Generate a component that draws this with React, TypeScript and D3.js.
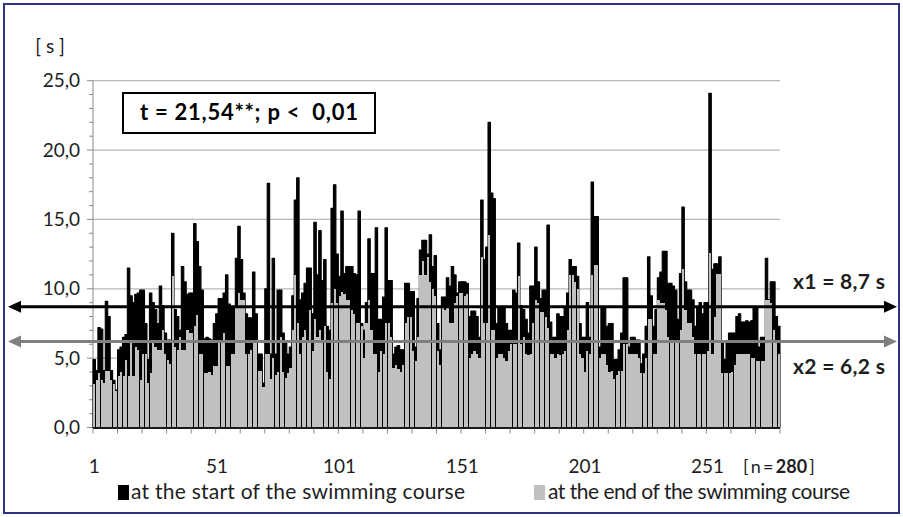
import React from 'react';
import * as d3 from 'd3';

// Reaction times [s] of 280 swimmers
const startValues: number[] = [
  4.9,4.1,7.2,7.1,4.1,9.1,8.0,4.1,3.4,2.7,5.6,5.8,6.5,6.7,11.5,9.5,9.0,9.6,9.7,9.9,9.9,7.5,4.9,9.7,9.0,8.5,7.5,10.2,8.8,6.8,6.3,6.3,14.0,8.5,8.0,
  7.0,11.6,10.5,9.6,9.7,9.7,14.7,13.4,11.6,9.9,6.4,6.5,6.4,6.3,7.5,8.2,9.3,9.3,9.7,11.0,8.9,8.7,8.7,12.2,14.5,12.1,9.7,8.2,7.9,7.9,11.2,8.2,5.3,5.3,3.2,
  10.0,17.6,5.3,12.2,5.3,9.9,9.9,6.8,6.1,5.3,5.8,9.5,16.4,18.0,9.2,9.7,10.4,11.5,11.5,8.2,14.8,11.0,14.2,10.6,12.1,7.3,7.0,15.8,17.5,12.5,10.9,15.6,11.1,11.6,11.6,
  11.6,11.1,11.0,15.6,7.5,7.0,9.0,13.6,11.1,11.1,14.4,7.8,7.8,9.4,14.4,10.6,10.6,5.3,5.8,5.9,5.6,5.6,10.4,10.4,9.8,9.8,5.8,9.3,12.8,13.5,13.5,12.5,13.9,11.6,12.4,
  7.5,5.6,9.4,9.4,10.8,10.2,11.6,11.0,9.7,10.5,10.5,10.5,10.4,8.0,8.4,8.4,8.0,6.5,16.4,12.1,13.0,22.0,16.9,16.5,7.5,8.7,8.6,8.6,7.5,7.0,7.0,9.9,9.7,13.3,8.8,
  8.5,7.8,6.8,10.2,10.2,13.0,10.5,9.3,9.9,9.9,14.6,7.6,6.5,6.5,8.2,8.0,8.0,8.7,9.7,12.1,11.6,11.6,10.9,7.5,6.5,6.5,9.0,6.5,17.7,15.2,15.2,5.8,8.6,8.6,7.3,
  7.5,7.5,4.9,4.9,5.6,6.8,10.8,10.8,5.8,6.5,6.5,6.3,6.3,4.6,5.3,7.3,12.3,9.5,7.3,8.5,10.8,11.2,12.7,12.7,10.4,10.4,10.2,9.9,7.8,11.1,15.9,10.5,9.9,9.9,9.2,
  7.3,8.7,9.0,8.2,9.0,9.0,24.1,11.4,11.8,11.8,12.3,6.1,4.9,6.1,6.8,6.8,6.8,8.0,8.2,7.6,7.6,7.7,7.6,7.7,8.7,8.7,5.8,6.5,6.5,12.2,9.2,10.5,10.5,8.0,7.3,
];

const endValues: number[] = [
  3.1,3.4,3.9,3.4,3.2,4.1,4.1,3.4,3.1,2.6,3.7,4.0,3.7,4.9,3.7,6.3,3.7,5.8,5.6,3.4,5.3,5.3,3.2,3.9,6.3,5.8,5.6,5.6,7.0,5.3,4.9,4.6,10.9,5.8,5.6,
  6.5,5.6,5.6,7.0,6.8,6.8,7.3,8.1,5.3,5.3,3.9,3.9,4.0,3.8,4.4,4.4,6.1,6.1,6.8,4.4,4.4,5.3,5.3,8.7,9.7,9.2,9.2,5.3,5.3,5.6,6.3,6.3,4.1,4.1,2.9,
  5.3,5.3,3.5,5.0,3.8,4.0,6.5,4.0,3.6,3.9,4.3,7.0,11.0,7.5,5.3,6.5,7.0,6.1,8.5,5.5,7.8,6.5,7.0,6.3,7.3,4.0,3.5,9.0,10.0,9.0,9.5,9.8,9.6,9.2,9.2,
  8.5,8.2,7.5,7.5,7.3,5.0,7.5,9.2,7.0,5.3,5.3,4.0,5.5,5.3,7.5,7.5,6.5,4.3,4.5,4.2,4.0,4.5,7.5,8.0,8.0,5.5,4.8,6.5,11.0,12.0,11.0,12.3,10.5,10.0,9.5,
  5.5,4.5,8.7,8.5,8.7,7.5,7.5,9.0,9.5,9.7,9.7,9.5,9.6,5.0,5.3,5.5,5.3,5.0,12.3,7.5,7.5,13.9,7.0,7.0,5.0,5.3,5.3,5.0,4.8,5.5,6.0,6.0,6.0,10.9,6.0,
  6.5,5.3,5.2,5.3,7.5,9.2,9.0,8.3,8.3,8.0,7.2,5.3,5.3,5.0,5.3,5.2,5.3,5.5,7.0,11.0,11.0,10.5,10.0,5.3,5.0,4.0,5.5,5.3,11.0,11.7,11.7,5.0,5.3,5.3,4.5,
  4.0,4.1,3.5,3.8,4.1,4.1,6.0,6.0,5.3,5.3,5.3,5.3,5.0,3.9,3.9,5.0,7.8,7.8,5.3,5.3,9.2,9.0,9.0,8.5,6.5,6.3,6.3,6.3,6.3,7.0,11.4,8.5,7.5,7.5,6.5,
  5.3,5.3,5.3,5.3,5.3,5.5,12.6,5.3,8.0,11.1,11.1,3.9,3.9,3.9,3.9,4.0,4.5,5.3,5.3,5.3,5.3,5.3,5.3,5.0,5.0,4.8,4.8,4.8,4.8,9.2,9.2,9.0,7.0,6.3,5.3,
];

const yTicks: number[] = [0, 5, 10, 15, 20, 25];
const xTickLabels: number[] = [1, 51, 101, 151, 201, 251];
const meanStart = 8.7;
const meanEnd = 6.2;
const meanLabels: string[] = ['x1 = 8,7 s', 'x2 = 6,2 s'];
const testLabel = 't = 21,54**; p <\u00a0\u00a00,01';
const legendLabels: string[] = ['at the start of the swimming course', 'at the end of the swimming course'];
const nLabel = '280';

const FONT = 'Lato, "Open Sans", "DejaVu Sans", sans-serif';
const GREY = '#c0c0c0';
const TXT = '#1e1e1e';

export default function App() {
  const W = 903, H = 517;
  const idx = d3.range(startValues.length);
  const x = d3.scaleBand<number>().domain(idx).range([93, 780]).padding(0);
  const y = d3.scaleLinear().domain([0, 25]).range([427.5, 80.7]);
  const bw = x.bandwidth();
  const x0 = 93, x1 = 780;
  const minor = d3.range(0, 25, 1).filter((v) => v % 5 !== 0);
  const xTickIdx = d3.range(0, startValues.length + 1, 10);
  const xPos = (i: number) => (i >= startValues.length ? x1 : (x(i) as number));
  const yS = y(meanStart), yE = y(meanEnd);

  const arrow = (xTip: number, yy: number, dir: number, color: string) => (
    <path d={`M${xTip},${yy} L${xTip - dir * 13},${yy - 6} L${xTip - dir * 13},${yy + 6} Z`} fill={color} />
  );

  return (
    <svg width={W} height={H} style={{ position: 'absolute', left: 0, top: 0, background: '#fff' }} fontFamily={FONT}>
      <rect x={0} y={0} width={W} height={H} fill="#fff" />
      <rect x={4} y={4} width={W - 8} height={H - 8} fill="none" stroke="#2e3383" strokeWidth={2} />

      {/* grid */}
      {yTicks.filter((v) => v > 0).map((v) => (
        <line key={'g' + v} x1={x0} x2={x1} y1={y(v)} y2={y(v)} stroke="#b8b8b8" strokeWidth={1.2} />
      ))}

      {/* y axis */}
      <line x1={x0} x2={x0} y1={y(25)} y2={y(0)} stroke="#8a8a8a" strokeWidth={1} />
      {yTicks.map((v) => (
        <line key={'yt' + v} x1={x0 - 6} x2={x0} y1={y(v)} y2={y(v)} stroke="#8a8a8a" strokeWidth={1} />
      ))}
      {minor.map((v) => (
        <line key={'ym' + v} x1={x0 - 4} x2={x0} y1={y(v)} y2={y(v)} stroke="#8a8a8a" strokeWidth={1} />
      ))}
      {yTicks.map((v) => (
        <text key={'yl' + v} x={80} y={y(v) + 6.5} textAnchor="end" fontSize={19} fill={TXT}>
          {v.toFixed(1).replace('.', ',')}
        </text>
      ))}
      <text x={50} y={53} textAnchor="middle" fontSize={19} fill={TXT}>[ s ]</text>

      {/* start bars */}
      {startValues.map((v, i) => (
        <rect key={'s' + i} x={x(i)} y={y(v)} width={bw} height={y(0) - y(v)} fill="#000" stroke="#000" strokeWidth={1.1} strokeLinejoin="round" />
      ))}
      {/* end bars */}
      {endValues.map((v, i) => (
        <rect key={'e' + i} x={(x(i) as number) + 0.15} y={y(v)} width={bw - 0.3} height={y(0) - y(v)} fill={GREY} shapeRendering="crispEdges" />
      ))}

      {/* x axis */}
      <line x1={x0} x2={x1} y1={y(0) + 0.5} y2={y(0) + 0.5} stroke="#1a1a1a" strokeWidth={2.2} />
      {xTickIdx.map((i) => (
        <line key={'xt' + i} x1={xPos(i)} x2={xPos(i)} y1={y(0) + 1} y2={y(0) + 6} stroke="#8a8a8a" strokeWidth={1} />
      ))}
      {xTickLabels.map((n) => (
        <text key={'xl' + n} x={(x(n - 1) as number) + bw / 2} y={473} textAnchor="middle" fontSize={19} fill={TXT}>
          {n}
        </text>
      ))}
      <text x={743} y={473} fontSize={18} fill={TXT}>
        {'[\u2009n\u2009=\u2009'}<tspan fontWeight="bold">{nLabel}</tspan>{'\u2009]'}
      </text>

      {/* mean lines */}
      <line x1={20} x2={885} y1={yS} y2={yS} stroke="#000" strokeWidth={3} />
      {arrow(8, yS, -1, '#000')}
      {arrow(897, yS, 1, '#000')}
      <line x1={20} x2={885} y1={yE} y2={yE} stroke="#7f7f7f" strokeWidth={3} />
      {arrow(8, yE, -1, '#7f7f7f')}
      {arrow(897, yE, 1, '#7f7f7f')}
      <text x={793} y={289} fontSize={21} fontWeight="bold" fill={TXT} textLength={92} lengthAdjust="spacing">{meanLabels[0]}</text>
      <text x={793} y={374} fontSize={21} fontWeight="bold" fill={TXT} textLength={92} lengthAdjust="spacing">{meanLabels[1]}</text>

      {/* test box */}
      <rect x={123} y={93} width={252} height={40} fill="#fff" stroke="#000" strokeWidth={2} />
      <text x={140} y={120} fontSize={22} fontWeight="bold" fill="#000" textLength={218} lengthAdjust="spacing">{testLabel}</text>

      {/* legend */}
      <rect x={118} y={485} width={11} height={15} fill="#000" />
      <text x={131} y={499} fontSize={21} fill={TXT} textLength={334} lengthAdjust="spacing">{legendLabels[0]}</text>
      <rect x={534} y={485} width={11} height={15} fill={GREY} />
      <text x={548} y={499} fontSize={21} fill={TXT} textLength={302} lengthAdjust="spacing">{legendLabels[1]}</text>
    </svg>
  );
}
